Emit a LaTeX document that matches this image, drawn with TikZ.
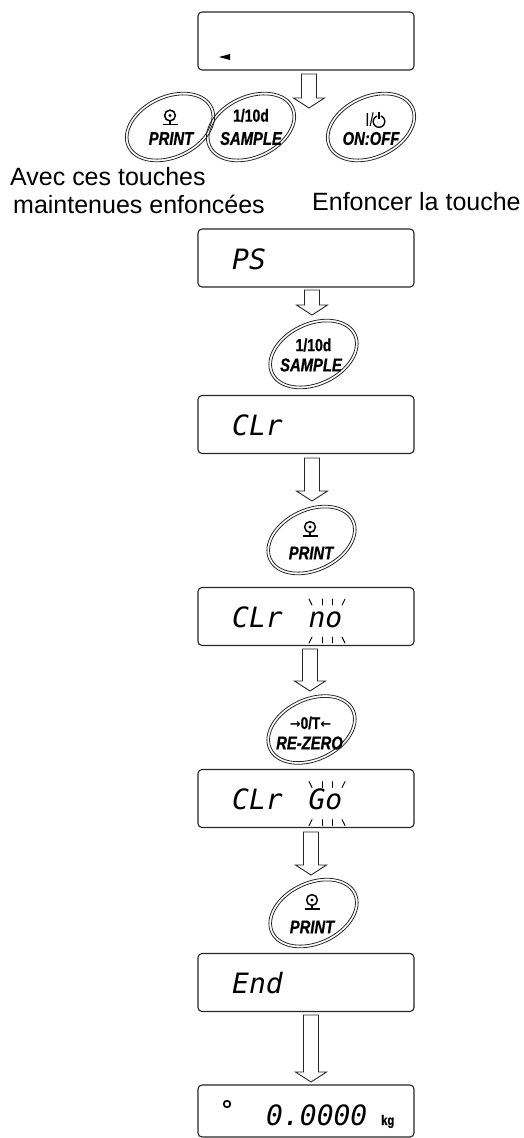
\documentclass[tikz,border=0pt]{standalone}
\usepackage{fontspec}
\setmainfont{Liberation Sans}
\setmonofont{DejaVu Sans Mono}
\newfontfamily\btnfont{Liberation Sans}[FakeStretch=0.8, BoldFeatures={FakeBold=0.8}, BoldItalicFeatures={FakeBold=0.8}]
\newfontfamily\arrfont{DejaVu Sans}
\usetikzlibrary{calc}
\tikzset{
 disp/.style={draw=black!85, line width=1.1pt, rounded corners=4pt, minimum width=216pt, minimum height=58pt, inner sep=0pt},
 segtxt/.style={anchor=base west, inner sep=0pt, font=\fontsize{28}{28}\selectfont\ttfamily\itshape},
 lbl/.style={anchor=base west, inner sep=0pt, font=\fontsize{25}{25}\selectfont},
 btnring/.style={line width=0.8pt, draw=black!85},
 btnhold/.style={inner sep=0pt, minimum width=88pt, minimum height=68pt},
 btntxt/.style={inner sep=0pt, font=\fontsize{18.5}{18.5}\selectfont\btnfont\bfseries\itshape},
 btnnum/.style={inner sep=0pt, font=\fontsize{17.5}{17.5}\selectfont\btnfont\bfseries},
 btnsym/.style={inner sep=0pt, font=\fontsize{17}{17}\selectfont\btnfont\bfseries},
 blk/.style={draw=black!85, line width=0.9pt, fill=white, line join=miter},
 blink/.style={line width=0.9pt, line cap=round},
}
\newcommand\btnoval[1]{%
 \draw[btnring, rotate around={25:(#1)}] (#1) ellipse [x radius=47, y radius=31.5];
 \draw[btnring, rotate around={25:(#1)}] (#1) ellipse [x radius=44.3, y radius=28.8];}
\newcommand\printicon[1]{%
 \draw[line width=1.5pt] (#1) circle [radius=5.4];
 \fill (#1) circle [radius=1.6];
 \draw[line width=1.5pt] ($(#1)+(0,5.4)$) -- ($(#1)+(0,8.5)$);
 \draw[line width=1.8pt] ($(#1)+(-7.5,9)$) -- ($(#1)+(7.5,9)$);}
\newcommand\blkarrow[2]{%
 \draw[blk] let \p1=(#1), \p2=(#2) in
 (\x2-7.5pt,\y1) -- (\x2+7.5pt,\y1) -- (\x2+7.5pt,\y2+10pt) -- (\x2+15.5pt,\y2+10pt)
 -- (\x2,\y2) -- (\x2-15.5pt,\y2+10pt) -- (\x2-7.5pt,\y2+10pt) -- cycle;}
\newcommand\blinkmarks[1]{%
 \draw[blink] ($(#1)+(-18,-22)$) -- ($(#1)+(-15,-16)$);
 \draw[blink] ($(#1)+(-5,-22)$) -- ($(#1)+(-5,-16)$);
 \draw[blink] ($(#1)+(5,-22)$) -- ($(#1)+(5,-16)$);
 \draw[blink] ($(#1)+(18,-22)$) -- ($(#1)+(15,-16)$);
 \draw[blink] ($(#1)+(-15,16)$) -- ($(#1)+(-18,22)$);
 \draw[blink] ($(#1)+(-5,16)$) -- ($(#1)+(-5,22)$);
 \draw[blink] ($(#1)+(5,16)$) -- ($(#1)+(5,22)$);
 \draw[blink] ($(#1)+(15,16)$) -- ($(#1)+(18,22)$);}
\begin{document}
\begin{tikzpicture}[x=1pt,y=-1pt]
\useasboundingbox (0,0) rectangle (524,1138);
% displays
\node[disp] (d1) at (306,41) {};
\node[disp] (d2) at (306,258) {};
\node[disp] (d3) at (306,424.5) {};
\node[disp] (d4) at (306,616.5) {};
\node[disp] (d5) at (306,798.5) {};
\node[disp] (d6) at (306,982.5) {};
\node[disp, minimum height=52pt] (d7) at (306,1111) {};
% display contents
\fill (219,57) -- (230,54) -- (230,60) -- cycle;
\node[segtxt] (t2) at (232,269) {PS};
\node[segtxt] (t3) at (232,435.5) {CLr};
\node[segtxt] (t4) at (232,627.5) {CLr\kern9pt\ no};
\node[segtxt] (t5) at (232,809.5) {CLr\kern9pt\ Go};
\node[segtxt] (t6) at (232,993.5) {End};
\node[segtxt] (t7) at (266,1125) {0.0000};
\node[anchor=base west, inner sep=0pt, font=\fontsize{14}{14}\selectfont\btnfont\bfseries] (t7k) at (381,1125) {kg};
\draw[line width=1.7pt] (227,1104) circle [radius=3.3];
\coordinate (bk4) at (327,621);
\coordinate (bk5) at (327,803.5);
\blinkmarks{bk4}
\blinkmarks{bk5}
% top row buttons
\node[btnhold] (bA) at (170,127) {};
\node[btnhold] (bB) at (251,127) {};
\node[btnhold] (bC) at (371,127) {};
\btnoval{bA}
\btnoval{bB}
\btnoval{bC}
\coordinate (iA) at (170,115.5);
\printicon{iA}
\node[btntxt] (bAt) at (171,138.5) {PRINT};
\node[btnnum] (bBn) at (251,115.5) {1/10d};
\node[btntxt] (bBt) at (251,138.5) {SAMPLE};
\node[inner sep=0pt, font=\fontsize{19}{19}\selectfont\btnfont, anchor=east] (bCs) at (374,119.5) {I/};
\coordinate (pw) at (379,121.5);
\draw[line width=1.4pt] ([shift={(-70:5.8)}]pw) arc[start angle=-70, end angle=250, radius=5.8];
\draw[line width=1.4pt] (379,111.5) -- (379,119);
\node[btntxt] (bCt) at (371,138.5) {ON:OFF};
% labels
\node[lbl] (l1) at (10,185) {Avec ces touches};
\node[lbl] (l2) at (13,213) {maintenues enfoncées};
\node[lbl] (l3) at (312,210) {Enfoncer la touche};
% vertical buttons
\node[btnhold] (b2) at (313.5,354) {};
\btnoval{b2}
\node[btnnum] (b2n) at (313.5,345) {1/10d};
\node[btntxt] (b2t) at (311,365) {SAMPLE};
\node[btnhold] (b3) at (311.5,540) {};
\btnoval{b3}
\coordinate (i3) at (310,527);
\printicon{i3}
\node[btntxt] (b3t) at (311,553) {PRINT};
\node[btnhold] (b4) at (311.5,729.5) {};
\btnoval{b4}
\node[btnsym] (b4s) at (310.5,723) {{\arrfont\bfseries\fontsize{13}{13}\selectfont →}0/T{\arrfont\bfseries\fontsize{13}{13}\selectfont ←}};
\node[btntxt] (b4t) at (309.5,743) {RE-ZERO};
\node[btnhold] (b5) at (313.5,913) {};
\btnoval{b5}
\coordinate (i5) at (312,900);
\printicon{i5}
\node[btntxt] (b5t) at (312,927) {PRINT};
% arrows
\coordinate (a1t) at (309,74); \coordinate (a1e) at (309,108);
\coordinate (a2t) at (312,290); \coordinate (a2e) at (312,315);
\coordinate (a3t) at (312,458); \coordinate (a3e) at (312,501);
\coordinate (a4t) at (310,649); \coordinate (a4e) at (310,691);
\coordinate (a5t) at (311,832); \coordinate (a5e) at (311,875);
\coordinate (a6t) at (311,1015); \coordinate (a6e) at (311,1082);
\blkarrow{a1t}{a1e}
\blkarrow{a2t}{a2e}
\blkarrow{a3t}{a3e}
\blkarrow{a4t}{a4e}
\blkarrow{a5t}{a5e}
\blkarrow{a6t}{a6e}
\end{tikzpicture}
\end{document}
